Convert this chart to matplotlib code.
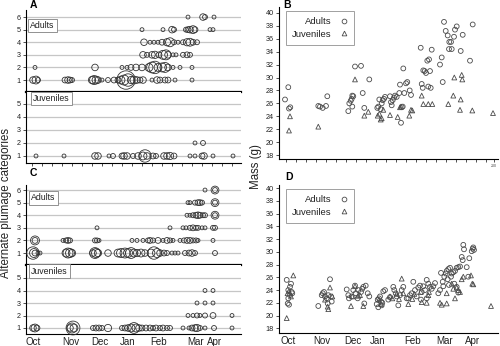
import numpy as np
import matplotlib
matplotlib.use("Agg")
import matplotlib.pyplot as plt
from matplotlib.lines import Line2D

plt.rcParams['font.family'] = ['Liberation Sans', 'DejaVu Sans']

# ---------------------------------------------------------------------------
# Plumage-score bubbles: {category: (season day, number of birds)}
# ---------------------------------------------------------------------------
A_ADULTS = {
    6: ([162, 177, 179, 188], [1, 4, 2, 1]),
    5: ([116, 137, 146, 148, 160, 162, 164, 167, 169, 184, 187],
        [1, 1, 4, 2, 2, 3, 4, 6, 3, 1, 1]),
    4: ([118, 124, 128, 132, 136, 141, 144, 148, 152, 157, 161, 164, 167, 171],
        [4, 1, 1, 1, 3, 5, 8, 2, 1, 2, 5, 6, 3, 2]),
    3: ([117, 121, 126, 129, 133, 137, 140, 142, 147, 150, 157, 161, 164],
        [4, 2, 4, 5, 3, 8, 10, 4, 1, 1, 2, 3, 2]),
    2: ([9, 69, 96, 101, 105, 110, 116, 123, 126, 129, 132, 136, 139, 142, 147, 154, 166],
        [1, 4, 1, 1, 3, 4, 4, 6, 12, 16, 6, 8, 10, 4, 1, 1, 1]),
    1: ([7, 10, 12, 39, 42, 44, 46, 66, 68, 70, 72, 76, 82, 88, 92, 95, 98, 100, 102,
         105, 108, 111, 114, 117, 126, 131, 134, 139, 142, 149, 166],
        [4, 6, 2, 3, 4, 3, 2, 5, 8, 6, 4, 1, 2, 3, 3, 6, 10, 36, 16,
         5, 6, 4, 3, 4, 1, 4, 3, 3, 3, 1, 1]),
}
A_JUVENILES = {
    2: ([169, 177], [1, 2]),
    1: ([10, 38, 69, 72, 83, 87, 96, 98, 101, 107, 112, 117, 119, 121, 127, 130, 138,
         141, 144, 148, 164, 169, 176, 178, 187, 207],
        [1, 1, 4, 4, 1, 2, 3, 4, 4, 2, 4, 6, 16, 4, 3, 2, 4,
         4, 5, 3, 1, 1, 3, 4, 1, 1]),
}
C_ADULTS = {
    6: ([179, 189, 189], [1, 6, 2]),
    5: ([162, 164, 169, 172, 174, 176, 189, 189], [1, 1, 2, 3, 3, 2, 6, 2]),
    4: ([161, 164, 167, 170, 172, 174, 177, 179, 189, 189], [1, 1, 2, 3, 4, 3, 2, 2, 6, 2]),
    3: ([71, 144, 157, 160, 164, 167, 170, 172, 176, 179, 187, 189],
        [1, 1, 1, 1, 2, 3, 2, 2, 1, 1, 2, 2]),
    2: ([9, 9, 37, 40, 42, 44, 69, 71, 73, 106, 111, 117, 122, 124, 127, 132, 137, 141,
         144, 147, 154, 158, 161, 164, 167, 170, 172, 187],
        [8, 3, 1, 2, 3, 2, 2, 2, 1, 1, 1, 1, 2, 3, 2, 3, 1, 3,
         2, 1, 1, 2, 3, 3, 2, 2, 1, 1]),
    1: ([7, 8, 9, 12, 14, 40, 42, 44, 46, 67, 69, 70, 72, 82, 92, 95, 99, 102, 105, 108,
         111, 115, 119, 125, 128, 131, 134, 138, 141, 146, 149, 152, 159, 163, 166, 169, 189],
        [16, 8, 3, 1, 1, 6, 10, 8, 5, 4, 12, 8, 5, 4, 6, 8, 10, 8, 12, 6,
         5, 6, 4, 6, 16, 8, 4, 3, 2, 1, 1, 1, 2, 3, 4, 2, 2]),
}
C_JUVENILES = {
    4: ([179, 187], [1, 1]),
    3: ([171, 179, 187], [1, 1, 1]),
    2: ([162, 167, 171, 174, 179, 187, 206], [1, 1, 2, 1, 2, 3, 1]),
    1: ([7, 9, 11, 44, 46, 47, 48, 67, 70, 73, 76, 82, 96, 99, 102, 105, 108, 110, 113,
         116, 120, 124, 127, 130, 134, 137, 141, 144, 157, 163, 166, 169, 171, 174, 179,
         188, 206],
        [4, 6, 3, 4, 10, 20, 6, 2, 3, 3, 2, 5, 2, 3, 4, 6, 12, 6, 4,
         3, 3, 3, 2, 3, 2, 3, 2, 2, 1, 1, 3, 4, 5, 2, 1,
         2, 1]),
}

# ---------------------------------------------------------------------------
# Body mass (g) by season day
# ---------------------------------------------------------------------------
B_AD_DAY = [-9.0, -5.7, -5.0, -3.7, 24.3, 26.0, 28.7, 32.0, 33.3, 54.3, 55.3, 56.7, 57.7,
            58.3, 59.3, 58.3, 61.0, 67.0, 68.7, 70.3, 75.3, 83.3, 84.3, 85.3, 86.7, 87.7,
            88.7, 90.0, 91.0, 96.0, 97.0, 97.7, 98.7, 100.0, 101.0, 102.7, 105.3, 106.0,
            107.7, 108.7, 109.3, 110.3, 112.0, 113.3, 115.7, 117.0, 107.0, 126.7, 127.7,
            128.7, 129.3, 130.7, 132.0, 133.3, 135.0, 136.0, 136.7, 137.7, 134.3, 146.0,
            147.7, 148.7, 150.0, 151.7, 153.7, 155.3, 157.0, 155.0, 157.7, 160.0, 161.0,
            162.7, 166.7, 168.7, 176.0, 178.7]
B_AD_MASS = [26.6, 28.5, 25.2, 25.4, 25.6, 25.5, 25.3, 25.6, 27.1, 24.8, 26.0, 26.4, 26.7,
             27.2, 27.1, 25.5, 31.7, 31.8, 27.6, 25.3, 29.7, 25.3, 25.5, 26.6, 25.1, 26.0,
             26.5, 26.7, 27.0, 27.1, 26.2, 25.7, 26.5, 26.9, 27.2, 27.0, 27.6, 28.9,
             25.4, 25.5, 31.4, 27.6, 29.1, 29.3, 28.0, 27.3, 23.0, 34.6, 29.0,
             28.4, 31.1, 31.0, 30.7, 32.6, 32.8, 31.0, 28.4, 34.3, 28.6, 32.0,
             33.1, 29.3, 38.6, 37.2, 36.5, 35.5, 35.5, 34.4, 34.4, 36.3, 37.4,
             37.9, 34.1, 36.6, 32.6, 38.2]
B_JUV_DAY = [-4.0, -5.0, 24.3, 61.0, 70.3, 74.3, 83.7, 85.3, 86.7, 87.7, 89.3, 96.0, 103.7,
             106.0, 107.0, 115.3, 117.0, 118.3, 127.7, 129.3, 134.3, 138.3, 154.3, 160.3,
             159.3, 166.0, 166.7, 167.7, 168.3, 178.3, 199.0]
B_JUV_MASS = [24.0, 21.8, 22.4, 29.7, 24.1, 24.7, 24.1, 24.4, 23.5, 23.7, 25.0, 24.2, 23.9,
              25.4, 25.5, 24.1, 25.0, 24.9, 27.2, 25.9, 25.9, 25.9, 25.9, 30.0,
              27.2, 25.0, 26.6, 30.4, 29.7, 24.9, 24.5]

D_AD_DAY = [-7.3, -4.0, -3.0, -5.7, -2.3, -4.0, -6.3, -5.0, -1.7, -5.7,
            24.3, 27.7, 28.7, 30.0, 31.0, 32.7, 34.3, 36.0, 37.0, 37.7, 33.7,
            52.7, 54.3, 55.0, 57.7, 59.3, 61.0, 61.7, 63.7, 64.3, 67.0, 68.3, 69.3, 70.3,
            71.7, 73.7, 75.3,
            82.7, 83.7, 85.0, 86.0, 87.0, 88.3, 89.3, 91.0, 84.3, 87.7, 94.3, 96.0, 99.3,
            100.3, 101.7, 104.3, 102.7, 106.0, 107.7, 109.3, 112.7,
            114.3, 116.0, 117.7, 119.3, 121.0, 122.7, 124.3, 126.0, 127.7, 129.3, 131.0,
            132.7, 134.3, 136.0, 137.7, 139.3, 141.0, 127.0, 132.7,
            144.3, 146.0, 147.0, 148.7, 150.3, 151.7, 152.7, 154.3, 156.0, 157.7, 159.3,
            161.0, 162.7, 164.3, 153.7, 155.0, 157.0, 160.3, 162.7, 164.3, 166.0, 149.3,
            167.7, 168.7, 169.3, 170.0, 172.7, 174.3, 175.3, 177.7, 178.7, 179.3, 180.0]
D_AD_MASS = [25.6, 24.5, 25.0, 24.0, 23.7, 23.2, 21.9, 21.7, 23.5, 22.7,
             21.5, 23.2, 23.5, 23.7, 23.0, 22.7, 23.2, 25.7, 23.0, 22.2, 21.9,
             24.1, 23.2, 22.7, 23.0, 24.0, 24.7, 23.5, 22.7, 24.0, 23.7, 24.2, 24.5, 21.9,
             24.7, 23.5, 23.0,
             21.8, 22.5, 22.7, 23.0, 22.2, 22.0, 23.8, 24.0, 21.3, 21.6, 22.5, 22.9, 24.5,
             24.0, 23.5, 21.6, 23.0, 23.2, 24.0, 24.5, 22.7,
             22.7, 23.2, 23.5, 25.3, 24.0, 23.0, 24.4, 24.7, 23.7, 24.6, 24.0,
             25.6, 25.0, 24.5, 24.2, 24.6, 25.1, 22.5, 22.7,
             23.5, 24.0, 26.7, 25.3, 26.1, 26.6, 27.0, 27.3, 27.5, 26.6, 26.8,
             27.0, 27.5, 27.6, 25.7, 24.8, 26.1, 25.0, 24.5, 23.6, 27.7, 24.6,
             29.2, 28.7, 31.1, 30.4, 27.6, 26.1, 29.0, 30.1, 30.5, 30.7, 30.3]
D_JUV_DAY = [-0.7, -7.3, -6.5, -3.0, -5.0,
             36.0, 33.7, 34.3, 38.3, 31.0,
             57.0, 61.0, 66.0, 69.3, 58.3, 64.3,
             85.0, 87.0, 96.0, 98.3, 102.7, 105.0, 107.7, 109.3,
             114.3, 118.3, 120.3, 126.7, 127.7, 134.3, 132.7, 135.0,
             146.0, 147.7, 152.7, 152.7, 159.3, 161.0, 162.7, 164.3, 166.0, 157.7,
             167.7, 169.3, 177.0, 178.3, 179.3, 197.0]
D_JUV_MASS = [26.3, 19.6, 23.5, 23.0, 23.8,
              24.4, 21.4, 21.0, 23.0, 22.5,
              21.5, 24.6, 23.2, 21.5, 23.0, 23.1,
              22.5, 21.8, 23.0, 22.7, 23.4, 22.6, 25.8, 23.5,
              21.8, 22.6, 23.4, 23.7, 22.1, 23.2, 22.0, 23.7,
              22.0, 21.7, 21.9, 23.5, 24.2, 22.7, 24.4, 24.0, 23.7, 25.0,
              25.7, 26.1, 26.3, 25.0, 24.9, 21.5]

MONTHS = ['Oct', 'Nov', 'Dec', 'Jan', 'Feb', 'Mar', 'Apr']
MONTH_POS_LEFT = [7, 45, 74, 102, 133, 170, 189]
MONTH_POS_RIGHT = [-6, 28, 59, 84, 119, 151, 179]
MASS_TICKS = list(range(18, 41, 2))

# ---------------------------------------------------------------------------
W, H = 500, 346
fig = plt.figure(figsize=(W / 100, H / 100), dpi=100)
fig.patch.set_facecolor('white')

GRID = '#c6c6c6'
EDGE = '#333333'
TXT = '#222222'


def px_box(x0, y0, x1, y1):
    return [x0 / W, 1 - y1 / H, (x1 - x0) / W, (y1 - y0) / H]


def bubble_axes(rect, ylim, cats, rows, divider):
    ax = fig.add_axes(rect)
    ax.set_xlim(0, 215)
    ax.set_ylim(*ylim)
    ax.set_yticks(cats)
    ax.set_yticklabels([str(c) for c in cats], fontsize=5.2, color=TXT)
    ax.tick_params(axis='y', length=2.2, width=0.6, pad=1.5, color='#333')
    ax.grid(axis='y', color=GRID, lw=0.9)
    ax.set_axisbelow(True)
    for side in ('top', 'right'):
        ax.spines[side].set_visible(False)
    ax.spines['left'].set_linewidth(0.8)
    if divider:
        ax.spines['bottom'].set_linewidth(1.6)
        ax.spines['bottom'].set_color('black')
    else:
        ax.spines['bottom'].set_linewidth(0.8)
    for cat, (days, counts) in rows.items():
        ax.scatter(days, [cat] * len(days), s=np.array(counts) * 4.8 + 3,
                   facecolors='none', edgecolors=EDGE, linewidths=0.6, zorder=3,
                   clip_on=False)
    return ax


def label_box(ax, x, y, text):
    ax.text(x, y, text, fontsize=6.3, color=TXT, ha='left', va='center', zorder=5,
            bbox=dict(boxstyle='square,pad=0.25', fc='white', ec='#808080', lw=0.6))


# Panel A
axA1 = bubble_axes(px_box(26, 10, 241, 92), (0.05, 6.56), range(1, 7), A_ADULTS, True)
axA1.set_xticks([])
label_box(axA1, 4, 5.33, 'Adults')
axA2 = bubble_axes(px_box(26, 92, 241, 163), (0.46, 5.92), range(1, 6), A_JUVENILES, False)
axA2.set_xticks(np.arange(6, 212, 10))
axA2.set_xticklabels([])
axA2.tick_params(axis='x', length=2.5, width=0.6, color='#333')
label_box(axA2, 7, 5.42, 'Juveniles')

# Panel C
axC1 = bubble_axes(px_box(26, 185, 241, 265), (0.05, 6.4), range(1, 7), C_ADULTS, True)
axC1.set_xticks([])
label_box(axC1, 5, 5.37, 'Adults')
axC2 = bubble_axes(px_box(26, 265, 241, 334), (0.52, 6.04), range(1, 6), C_JUVENILES, False)
axC2.set_xticks(MONTH_POS_LEFT)
axC2.set_xticklabels(MONTHS, fontsize=7, color=TXT)
axC2.tick_params(axis='x', length=0, pad=2.5)
label_box(axC2, 5, 5.56, 'Juveniles')


def mass_axes(rect, ylim):
    ax = fig.add_axes(rect)
    ax.set_xlim(-15, 204)
    ax.set_ylim(*ylim)
    ax.set_yticks(MASS_TICKS)
    ax.set_yticklabels([str(t) for t in MASS_TICKS], fontsize=5.2, color=TXT)
    ax.tick_params(axis='y', length=2.2, width=0.6, pad=1.5, color='#333')
    for side in ('top', 'right'):
        ax.spines[side].set_visible(False)
    ax.spines['left'].set_linewidth(0.8)
    ax.spines['bottom'].set_linewidth(0.8)
    return ax


def mass_points(ax, ad_x, ad_y, juv_x, juv_y):
    ax.scatter(ad_x, ad_y, s=12, marker='o', facecolors='none', edgecolors='#4a4a4a',
               linewidths=0.6, zorder=3)
    ax.scatter(juv_x, juv_y, s=12, marker='^', facecolors='none', edgecolors='#4a4a4a',
               linewidths=0.6, zorder=3)
    handles = [Line2D([], [], marker='o', ls='none', mfc='none', mec='#4a4a4a', ms=3.4, mew=0.6),
               Line2D([], [], marker='^', ls='none', mfc='none', mec='#4a4a4a', ms=3.4, mew=0.6)]
    leg = ax.legend(handles, ['Adults', 'Juveniles'], loc='upper left',
                    bbox_to_anchor=(0.03, 0.975), markerfirst=False, fontsize=6.8,
                    frameon=True, fancybox=False, handlelength=0.8, handletextpad=0.9,
                    borderpad=0.7, labelspacing=0.35, borderaxespad=0)
    leg.get_frame().set_edgecolor('#888888')
    leg.get_frame().set_linewidth(0.7)
    for t in leg.get_texts():
        t.set_color(TXT)


# Panel B
axB = mass_axes(px_box(279, 7, 498, 159), (17.4, 40.9))
ticks_b = list(np.arange(-8, 195, 10)) + [200]
axB.set_xticks(ticks_b)
axB.set_xticklabels(['' for _ in ticks_b[:-1]] + ['200'], fontsize=2.6, color='#444')
axB.tick_params(axis='x', length=2.5, width=0.6, pad=1, color='#333')
mass_points(axB, B_AD_DAY, B_AD_MASS, B_JUV_DAY, B_JUV_MASS)

# Panel D
axD = mass_axes(px_box(279, 185, 498, 333), (17.26, 40.5))
axD.set_xticks(MONTH_POS_RIGHT)
axD.set_xticklabels(MONTHS, fontsize=7, color=TXT)
axD.tick_params(axis='x', length=0, pad=2.5)
mass_points(axD, D_AD_DAY, D_AD_MASS, D_JUV_DAY, D_JUV_MASS)

# Panel letters and shared axis titles
for letter, x, y in [('A', 30, 4.5), ('B', 283, 4.5), ('C', 30, 173), ('D', 285, 176.5)]:
    fig.text(x / W, 1 - y / H, letter, fontsize=7.5, fontweight='bold', ha='left', va='center')

fig.text(6 / W, 1 - 203 / H, 'Alternate plumage categories', rotation=90, fontsize=8.3,
         ha='center', va='center', color=TXT)
fig.text(256 / W, 1 - 167 / H, 'Mass (g)', rotation=90, fontsize=8.3,
         ha='center', va='center', color=TXT)

fig.savefig('out.png', dpi=100, facecolor='white')
